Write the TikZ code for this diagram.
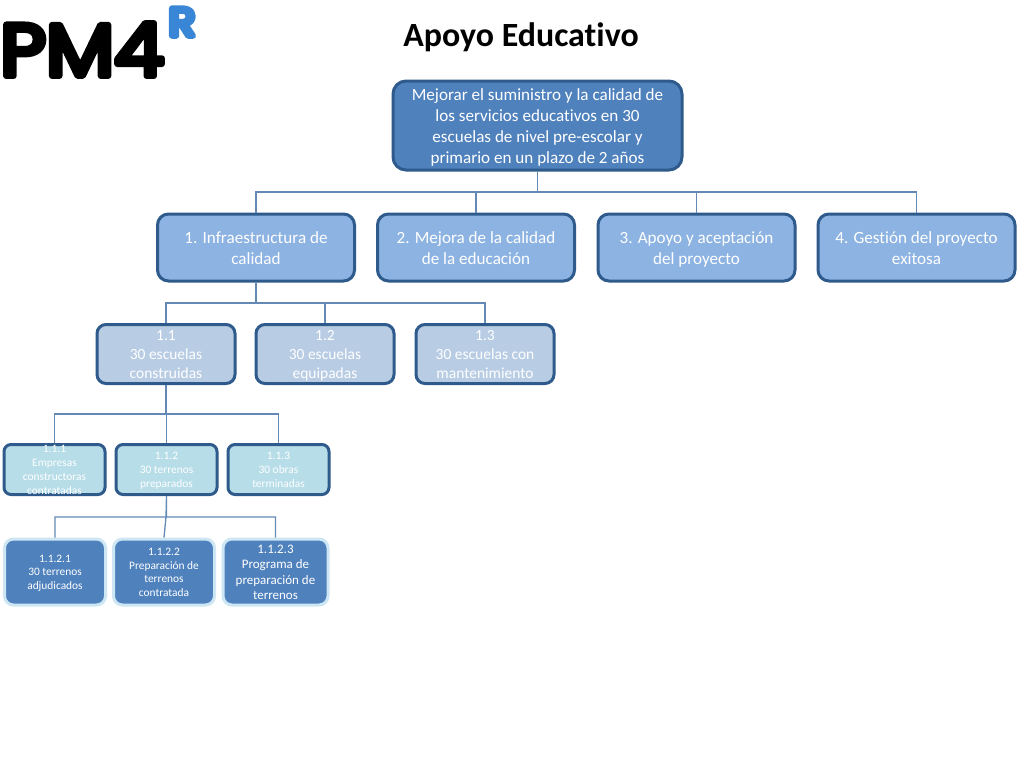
\documentclass[tikz,border=0pt]{standalone}
\usepackage{fontspec}
\setmainfont{Carlito}[Ligatures=NoCommon]
\newfontfamily\logofont[FakeBold=8]{Poppins}
\newfontfamily\logosupfont[FakeBold=14]{Poppins}
\usetikzlibrary{calc}
\definecolor{rootfill}{HTML}{4F81BD}
\definecolor{edgeblue}{HTML}{2F5A8C}
\definecolor{lonefill}{HTML}{8DB3E2}
\definecolor{ltwofill}{HTML}{B8CCE4}
\definecolor{lthreefill}{HTML}{B7DDE8}
\definecolor{glowblue}{HTML}{CDE6F4}
\definecolor{wire}{HTML}{6389B4}
\definecolor{logoblue}{HTML}{3A86D6}
\newcommand\tx[2]{\rule{0pt}{\dimexpr .7\baselineskip+#1\relax}#2\strut}
\tikzset{
  x=1pt,y=-1pt,
  boxbase/.style={draw=edgeblue,text=white,align=center,inner xsep=0pt,inner ysep=-14pt,anchor=center},
  rootbox/.style={boxbase,fill=rootfill,line width=3pt,rounded corners=13pt,minimum width=289pt,minimum height=89pt,font=\fontsize{17.1}{21}\selectfont},
  lonebox/.style={boxbase,fill=lonefill,line width=3pt,rounded corners=11pt,minimum width=197pt,minimum height=67pt,font=\fontsize{17.1}{21}\selectfont},
  ltwobox/.style={boxbase,fill=ltwofill,line width=3pt,rounded corners=9pt,minimum width=138pt,minimum height=59pt,font=\fontsize{15.5}{19}\selectfont},
  lthreebox/.style={boxbase,fill=lthreefill,line width=3pt,rounded corners=7pt,minimum width=101pt,minimum height=50pt,font=\fontsize{11.4}{13.8}\selectfont},
  lfourbox/.style={boxbase,draw=glowblue,fill=rootfill,line width=3pt,rounded corners=9pt,minimum height=66pt,font=\fontsize{11.4}{13.8}\selectfont},
  wireline/.style={draw=wire,line width=1.3pt},
}
\begin{document}
\begin{tikzpicture}
\useasboundingbox[fill=white] (0,0) rectangle (1024,768);
% logo
\node (logo) [anchor=base west,inner sep=0pt,text=black] at (0,76) {\special{pdf:code 1 j 1 J}\scalebox{1.07}[1]{\fontsize{74}{74}\logofont PM4}};
\node (logor) [anchor=base west,inner sep=0pt,text=logoblue] at (168.5,36) {\special{pdf:code 1 j 1 J}\scalebox{1.1}[1]{\fontsize{40}{40}\logosupfont R}};
% title
\node (title) [inner sep=0pt,font=\fontsize{33.9}{40}\selectfont\bfseries] at (521,37.5) {Apoyo Educativo};
% root
\node (root) [rootbox] at (537.5,125.5) {\tx{.23em}{Mejorar el suministro y la calidad de\\los servicios educativos en 30\\escuelas de nivel pre-escolar y\\primario en un plazo de 2 años}};
% level 1
\node (a) [lonebox] at (256,247.5) {\tx{.25em}{1. Infraestructura de\\calidad}};
\node (b) [lonebox] at (476,247.5) {\tx{.25em}{2. Mejora de la calidad\\de la educación}};
\node (c) [lonebox] at (696.5,247.5) {\tx{.25em}{3. Apoyo y aceptación\\del proyecto}};
\node (d) [lonebox] at (916.5,247.5) {\tx{.25em}{4. Gestión del proyecto\\exitosa}};
% level 2
\node (a1) [ltwobox] at (166,354) {\tx{.27em}{1.1\\30 escuelas\\construidas}};
\node (a2) [ltwobox] at (325,354) {\tx{.27em}{1.2\\30 escuelas\\equipadas}};
\node (a3) [ltwobox] at (485,354) {\tx{.27em}{1.3\\30 escuelas con\\mantenimiento}};
% level 3
\node (e1) [lthreebox] at (54.5,469.5) {\tx{.2em}{1.1.1\\Empresas\\constructoras\\contratadas}};
\node (e2) [lthreebox] at (166.5,469.5) {\tx{.2em}{1.1.2\\30 terrenos\\preparados}};
\node (e3) [lthreebox] at (278.5,469.5) {\tx{.2em}{1.1.3\\30 obras\\terminadas}};
% level 4
\node (f1) [lfourbox,minimum width=101pt] at (55,572) {\tx{.2em}{1.1.2.1\\30 terrenos\\adjudicados}};
\node (f2) [lfourbox,minimum width=101pt] at (164,572) {\tx{.2em}{1.1.2.2\\Preparación de\\terrenos\\contratada}};
\node (f3) [lfourbox,minimum width=105pt,font=\fontsize{13}{15.5}\selectfont] at (275.5,572) {\tx{.25em}{1.1.2.3\\Programa de\\preparación de\\terrenos}};
% buses
\coordinate (busroot) at (537.5,192);
\coordinate (busa) at (256,303);
\coordinate (busaa) at (166,414);
\coordinate (buse) at (166,517);
% connectors
\draw[wireline] \foreach \n in {a,b,c,d} {(root.south) |- (busroot -| \n.north) -- (\n.north)};
\draw[wireline] \foreach \n in {a1,a2,a3} {(a.south) |- (busa -| \n.north) -- (\n.north)};
\draw[wireline] \foreach \n in {e1,e2,e3} {(a1.south) |- (busaa -| \n.north) -- (\n.north)};
\draw[wireline] \foreach \n in {f1,f3} {(e2.south) |- (buse -| \n.north) -- (\n.north)} (e2.south) -- (buse) -- (f2.north);
\end{tikzpicture}
\end{document}
